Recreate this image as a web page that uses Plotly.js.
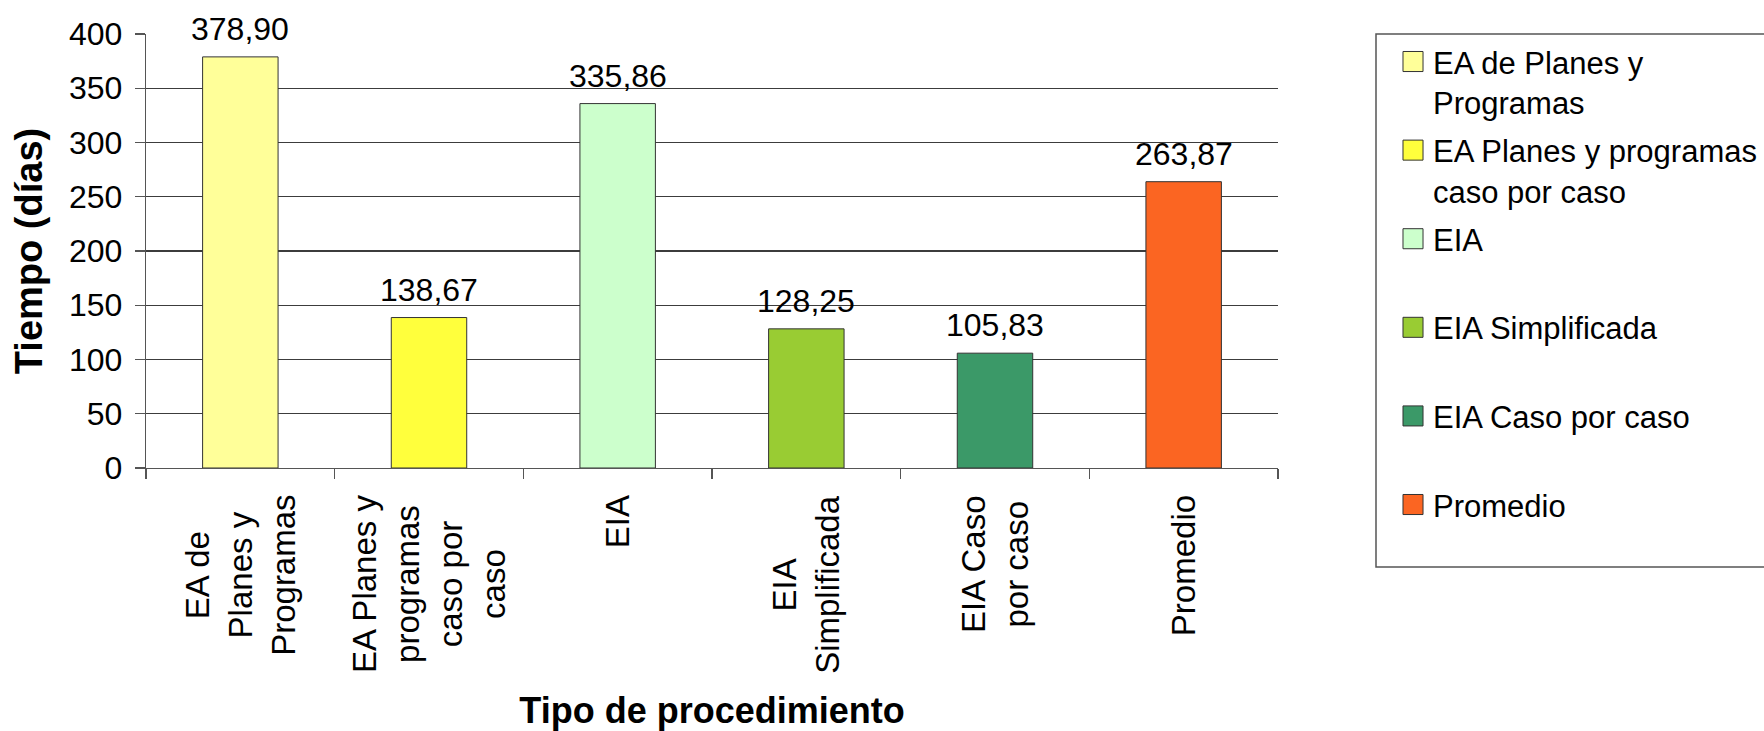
<!DOCTYPE html>
<html>
<head>
<meta charset="utf-8">
<script src="https://cdn.plot.ly/plotly-3.0.1.min.js"></script>
<style>
  html, body { margin: 0; padding: 0; background: #fff; }
  #chart { width: 1764px; height: 731px; }
</style>
</head>
<body>
<div id="chart"></div>
<script>
// ---- data ----
const categories = ['EA de Planes y Programas', 'EA Planes y programas caso por caso', 'EIA', 'EIA Simplificada', 'EIA Caso por caso', 'Promedio'];
const values = [378.90, 138.67, 335.86, 128.25, 105.83, 263.87];
const tickLabels = ['EA de<br>Planes y<br>Programas', 'EA Planes y<br>programas<br>caso por<br>caso', 'EIA', 'EIA<br>Simplificada', 'EIA Caso<br>por caso', 'Promedio'];
const legendLabels = ['EA de Planes y<br>Programas', 'EA Planes y programas<br>caso por caso', 'EIA<br>&nbsp;', 'EIA Simplificada<br>&nbsp;', 'EIA Caso por caso<br>&nbsp;', 'Promedio<br>&nbsp;'];
const barColors = ['#FFFF99', '#FFFF3C', '#CCFFCC', '#99CC33', '#3B9968', '#FB6522'];
const yTitle = 'Tiempo (días)';
const xTitle = 'Tipo de procedimiento';

const FONT = 'Liberation Sans, Arial, sans-serif';

const traces = categories.map((c, i) => ({
  type: 'bar',
  x: [c],
  y: [values[i]],
  name: legendLabels[i],
  legendgroup: 'g' + i,
  marker: { color: barColors[i], line: { color: '#333333', width: 1 } },
  hoverinfo: 'skip'
}));

const annotations = [];
categories.forEach((c, i) => {
  annotations.push({
    x: c, y: values[i], xref: 'x', yref: 'y',
    text: values[i].toFixed(2).replace('.', ','),
    showarrow: false, xanchor: 'center', yanchor: 'bottom', yshift: 8,
    font: { family: FONT, size: 32, color: '#000' }
  });
  annotations.push({
    x: c, y: -0.0576, xref: 'x', yref: 'paper',
    text: tickLabels[i], textangle: -90, align: 'center',
    showarrow: false, xanchor: 'center', yanchor: 'top',
    font: { family: FONT, size: 33, color: '#000' }
  });
});

const layout = {
  width: 1764, height: 731,
  paper_bgcolor: '#ffffff', plot_bgcolor: '#ffffff',
  margin: { l: 146, r: 486, t: 34, b: 263, autoexpand: false },
  font: { family: FONT, color: '#000' },
  barmode: 'overlay',
  bargap: 0.6,
  showlegend: true,
  legend: {
    x: 1.1016, y: 0.998, xanchor: 'left', yanchor: 'top',
    bgcolor: 'rgba(0,0,0,0)', borderwidth: 0,
    font: { family: FONT, size: 31, color: '#000' },
    traceorder: 'grouped', tracegroupgap: 5, valign: 'top',
    maxheight: 720
  },
  xaxis: {
    type: 'category',
    categoryorder: 'array', categoryarray: categories,
    showticklabels: false,
    ticks: 'outside', tickson: 'boundaries', ticklen: 10, tickwidth: 1.3, tickcolor: '#555',
    showline: true, linecolor: '#555', linewidth: 1.3,
    showgrid: false, zeroline: false,
    title: { text: xTitle, standoff: 230, font: { family: FONT, size: 36, weight: 'bold', color: '#000' } },
    automargin: false
  },
  yaxis: {
    range: [0, 400], dtick: 50, tick0: 0,
    ticks: 'outside', ticklen: 10, tickwidth: 1.3, tickcolor: '#555',
    tickfont: { family: FONT, size: 32, color: '#000' },
    ticklabelstandoff: 6,
    showline: true, linecolor: '#555', linewidth: 1.3,
    showgrid: true, gridcolor: '#3c3c3c', gridwidth: 1.4,
    zeroline: false,
    title: { text: yTitle, standoff: 14, font: { family: FONT, size: 38, weight: 'bold', color: '#000' } },
    automargin: false
  },
  shapes: [{
    type: 'rect', xref: 'paper', yref: 'paper',
    x0: 1.08657, x1: 1.6, y0: -0.2281, y1: 1.0,
    line: { color: '#555', width: 1.5 }, fillcolor: 'rgba(0,0,0,0)', layer: 'below'
  }],
  annotations: annotations
};

Plotly.newPlot('chart', traces, layout, { displayModeBar: false, staticPlot: true }).then(function (gd) {
  gd.querySelectorAll('.legendpoints path').forEach(function (p) {
    var t = p.getAttribute('transform') || '';
    p.setAttribute('transform', t + ' scale(1.67)');
    p.style.vectorEffect = 'non-scaling-stroke';
  });
});
</script>
</body>
</html>
